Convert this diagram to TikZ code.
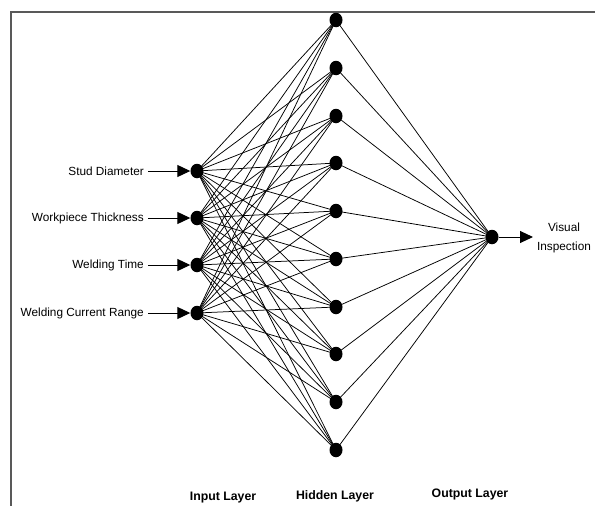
\documentclass[tikz,border=0pt]{standalone}
\usepackage{fontspec}
\setmainfont{Liberation Sans}
\usetikzlibrary{arrows.meta,shapes.geometric}
\begin{document}
\begin{tikzpicture}[x=1pt,y=-1pt,
  neuron/.style={ellipse,fill=black,minimum width=13pt,minimum height=14.5pt,inner sep=0pt},
  lbl/.style={font=\fontsize{11.8}{13}\selectfont,inner sep=0pt},
  layerlbl/.style={font=\fontsize{12.3}{14}\selectfont\bfseries,inner sep=0pt},
  conn/.style={line width=0.75pt,black},
  inarrow/.style={line width=1pt,-{Triangle[length=13pt,width=12pt]}},
  frame/.style={line width=1.3pt,black!65}]
\useasboundingbox (0,0) rectangle (595,506);
\draw[frame] (11,506) -- (11,12) -- (595,12);
% input nodes
\foreach \i/\y in {1/171,2/218,3/265,4/313}
  \node[neuron] (i\i) at (197,\y) {};
% hidden nodes
\foreach \j/\y in {1/20,2/68,3/116,4/163,5/211,6/259,7/307,8/354,9/402,10/450}
  \node[neuron] (h\j) at (336,\y) {};
% output node
\node[neuron] (o) at (492,237) {};
% connections
\foreach \i in {1,...,4}
  \foreach \j in {1,...,10}
    \draw[conn] (i\i.center) -- (h\j.center);
\foreach \j in {1,...,10}
  \draw[conn] (h\j.center) -- (o.center);
% input labels
\node[lbl,anchor=east] (l1) at (144,171) {Stud Diameter};
\node[lbl,anchor=east] (l2) at (144,218) {Workpiece Thickness};
\node[lbl,anchor=east] (l3) at (144,265) {Welding Time};
\node[lbl,anchor=east] (l4) at (144,313) {Welding Current Range};
\foreach \i in {1,...,4}
  \draw[inarrow] ([xshift=4pt]l\i.east) -- (i\i.west);
% output
\node[lbl,align=center,font=\fontsize{11.8}{19}\selectfont] (vi) at (564,238) {Visual\\Inspection};
\coordinate (oend) at (533,237);
\draw[inarrow] (o.east) -- (oend);
% layer labels
\node[layerlbl] (il) at (223,498) {Input Layer};
\node[layerlbl] (hl) at (335,496) {Hidden Layer};
\node[layerlbl] (ol) at (470,494) {Output Layer};
\end{tikzpicture}
\end{document}
